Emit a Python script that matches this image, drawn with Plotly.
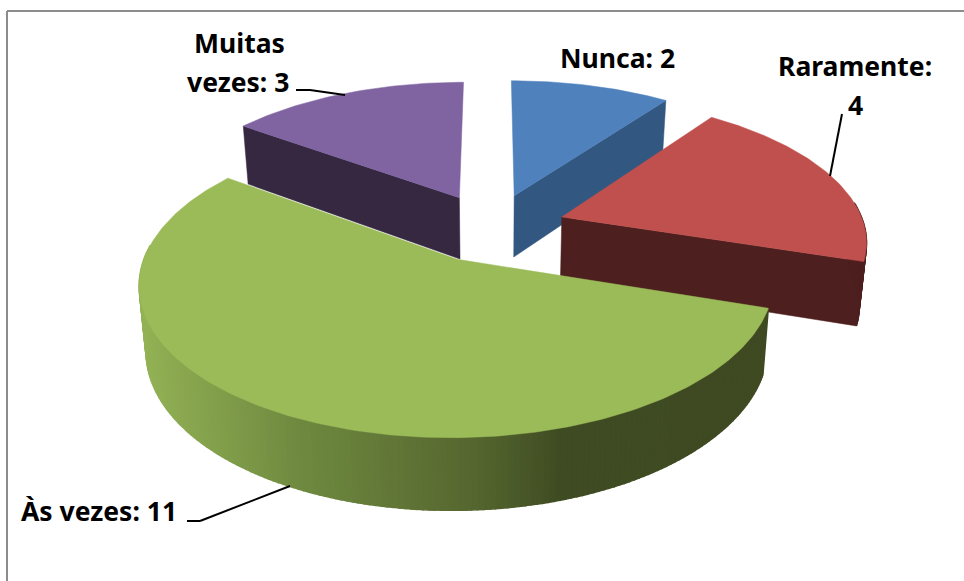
import math
import plotly.graph_objects as go

categories = ["Nunca", "Raramente", "Às vezes", "Muitas vezes"]
values = [2, 4, 11, 3]
top_colors = ["#4f81bd", "#c0504d", "#9bbb59", "#8064a2"]
wall_colors = ["#325780", "#4e1f1f", "#3f4a22", "#362841"]
draw_order = [3, 0, 1, 2]

X0, Y0, RX, RY, K, M, H, D = 492, 227.5, 303, 141, 0.15, 0.02, 64, 0.245
W, HT = 964, 581
GRAD = [(140, (148, 179, 86)), (300, (111, 138, 64)), (480, (85, 101, 47)), (560, (63, 76, 34)), (780, (63, 74, 34))]


def proj(u, v, z):
    w = (1 + K * v) * (1 + M * z)
    return X0 + RX * u / w, Y0 + (-RY * v + H * z) / w


def grad_color(x):
    for (x1, c1), (x2, c2) in zip(GRAD, GRAD[1:]):
        if x <= x2:
            t = max(0, (x - x1) / (x2 - x1))
            return "rgb(%d,%d,%d)" % tuple(a + (b - a) * t for a, b in zip(c1, c2))
    return "rgb(%d,%d,%d)" % GRAD[-1][1]


fig = go.Figure()


def poly(pts, color, lw=0.5):
    fig.add_trace(go.Scatter(
        x=[p[0] for p in pts] + [pts[0][0]], y=[p[1] for p in pts] + [pts[0][1]],
        mode="lines", fill="toself", fillcolor=color,
        line=dict(color=color, width=lw), hoverinfo="skip", showlegend=False))


total = sum(values)
spans = []
a = 0.0
for val in values:
    spans.append((a, a + val / total * 2 * math.pi))
    a = spans[-1][1]

for i in draw_order:
    t1, t2 = spans[i]
    mid = (t1 + t2) / 2
    cu, cv = D * math.sin(mid), D * math.cos(mid)
    def rim(t, z):
        return proj(cu + math.sin(t), cv + math.cos(t), z)
    n = max(8, int((t2 - t1) * 60))
    ts = [t1 + (t2 - t1) * j / n for j in range(n + 1)]
    # radial walls
    if i == 3:
        poly([proj(cu, cv, 0), rim(t1, 0), rim(t1, 1), proj(cu, cv, 1)], wall_colors[i])
    if i in (0, 1):
        poly([proj(cu, cv, 0), rim(t2, 0), rim(t2, 1), proj(cu, cv, 1)], wall_colors[i])
    # outer wall
    if i in (1, 2):
        for j in range(n):
            ta, tb = ts[j], ts[j + 1]
            if math.cos((ta + tb) / 2) < 0.1:
                q = [rim(ta, 0), rim(tb, 0), rim(tb, 1), rim(ta, 1)]
                col = grad_color(sum(p[0] for p in q) / 4) if i == 2 else wall_colors[i]
                poly(q, col, 1.5)
    # top
    poly([proj(cu, cv, 0)] + [rim(t, 0) for t in ts], top_colors[i])

FONT = dict(family="Noto Sans", size=26.5, color="#000000")
labels = [
    ("Nunca: 2", 617, 58),
    ("Raramente:", 855, 66),
    ("4", 855, 105),
    ("Às vezes: 11", 99, 511),
    ("Muitas", 239, 43),
    ("vezes: 3", 238, 82),
]
for text, x, y in labels:
    fig.add_annotation(x=x, y=y, text="<b>%s</b>" % text, showarrow=False, font=FONT,
                       xref="x", yref="y", align="center")

leaders = [
    [(296, 90), (310, 90), (345, 95)],
    [(842, 114), (830, 176)],
    [(187, 521), (200, 521), (290, 486)],
]
shapes = [dict(type="line", x0=a[0], y0=a[1], x1=b[0], y1=b[1], xref="x", yref="y",
               line=dict(color="#000000", width=2))
          for path in leaders for a, b in zip(path, path[1:])]
frame = "#8c8c8c"
shapes += [
    dict(type="line", x0=7, y0=11, x1=964, y1=11, xref="x", yref="y", line=dict(color=frame, width=2)),
    dict(type="line", x0=7, y0=11, x1=7, y1=581, xref="x", yref="y", line=dict(color=frame, width=2)),
]

fig.update_layout(
    width=W, height=HT, margin=dict(l=0, r=0, t=0, b=0), paper_bgcolor="white", plot_bgcolor="white",
    xaxis=dict(range=[0, W], visible=False, fixedrange=True),
    yaxis=dict(range=[HT, 0], visible=False, fixedrange=True),
    shapes=shapes, showlegend=False,
)
fig.write_html("out.html", config=dict(displayModeBar=False),
               post_script="document.body.style.margin='0';document.body.style.overflow='hidden';")
